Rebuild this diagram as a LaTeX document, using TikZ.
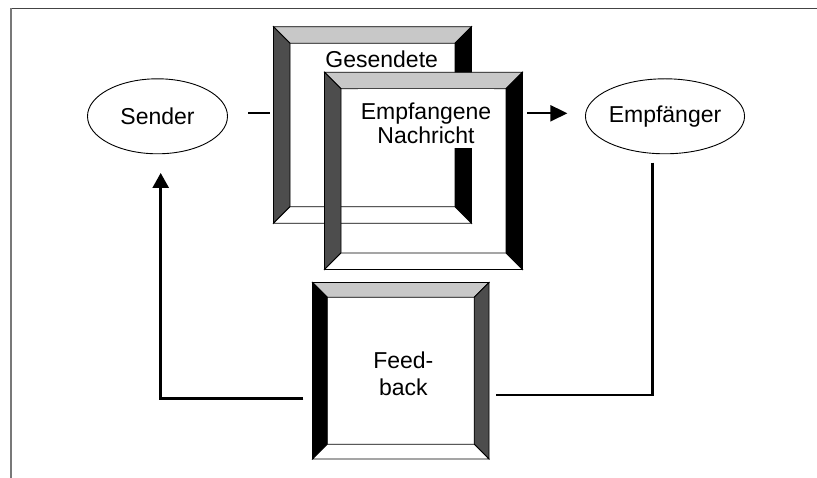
\documentclass[tikz,border=0pt]{standalone}
\usepackage{fontspec}
\setmainfont{Liberation Sans}
\usetikzlibrary{arrows.meta,calc,shapes.geometric}
\definecolor{bevtop}{RGB}{200,200,200}
\definecolor{bevdark}{RGB}{77,77,77}
\definecolor{framedark}{RGB}{68,68,68}
\definecolor{framegray}{RGB}{120,120,120}
\newcommand{\bevelbox}[4]{%
  \coordinate (#1-a) at ([shift={(#2,#2)}]#1.north west);
  \coordinate (#1-b) at ([shift={(-#2,#2)}]#1.north east);
  \coordinate (#1-c) at ([shift={(-#2,-#2)}]#1.south east);
  \coordinate (#1-d) at ([shift={(#2,-#2)}]#1.south west);
  \filldraw[bevel,fill=bevtop] (#1.north west) -- (#1.north east) -- (#1-b) -- (#1-a) -- cycle;
  \filldraw[bevel,fill=#3] (#1.north west) -- (#1-a) -- (#1-d) -- (#1.south west) -- cycle;
  \filldraw[bevel,fill=#4] (#1.north east) -- (#1.south east) -- (#1-c) -- (#1-b) -- cycle;
  \filldraw[bevel,fill=white] (#1.south west) -- (#1-d) -- (#1-c) -- (#1.south east) -- cycle;
}
\begin{document}
\begin{tikzpicture}[x=1pt,y=-1pt,
  boxarea/.style={rectangle,inner sep=0pt,outer sep=0pt},
  bevel/.style={draw=black,line width=0.8pt,line join=miter},
  lbl/.style={font=\fontsize{23}{27.6}\selectfont,align=center,inner sep=0pt},
  ell/.style={ellipse,draw=black,line width=0.9pt,minimum width=140pt,minimum height=75pt,inner sep=0pt,font=\fontsize{23}{27.6}\selectfont},
  conn/.style={draw=black,line width=2pt},
  fbline/.style={draw=black,line width=2.5pt},
  tipa/.style={-{Triangle[length=17pt,width=16pt]}},
  tipb/.style={-{Triangle[length=15pt,width=16pt]}}
]
\useasboundingbox (0,0) rectangle (817,478);
\fill[white] (0,0) rectangle (817,478);
\draw[framedark,line width=1.5pt] (10,8.3) -- (817,8.3);
\draw[framegray,line width=2pt] (10.7,8.3) -- (10.7,478);

% Gesendete box
\node[boxarea,minimum width=198pt,minimum height=196.6pt] (gesendete) at (372.5,125) {};
\bevelbox{gesendete}{16.5}{bevdark}{black}
\node[lbl] (tges) at (381.7,59.3) {Gesendete};

% Empfangene box
\node[boxarea,minimum width=198pt,minimum height=197.2pt] (empfangene) at (423.5,170.9) {};
\bevelbox{empfangene}{16.5}{bevdark}{black}
\node[lbl,fill=white,inner xsep=3pt,font=\fontsize{23}{24.6}\selectfont] (temp) at (426,118.7)
  {\rule{0pt}{29.7pt}Empfangene\\Nachricht\rule[-4.2pt]{0pt}{4.2pt}};

% Feedback box
\node[boxarea,minimum width=176.5pt,minimum height=176.5pt] (feedback) at (400.75,370.75) {};
\bevelbox{feedback}{14.8}{black}{bevdark}
\node[lbl,font=\fontsize{23}{27.7}\selectfont] (tfeed) at (403.3,373.8) {Feed-\\back};

% Ellipses
\node[ell] (sender) at (157.5,116.3) {Sender};
\node[ell] (empf) at (665,116.3) {Empfänger};

% Connectors
\draw[conn,shorten <=20.5pt,shorten >=4pt] ($(sender.east)+(0,-3)$) -- ($(sender.east -| gesendete.west)+(0,-3)$);
\draw[conn,tipa,shorten <=4.5pt,shorten >=17.6pt] ($(empfangene.east |- empf.west)+(0,-3)$) -- ($(empf.west)+(0,-3)$);

\coordinate (eR) at ($(empf.south)+(-12.3,8.3)$);
\coordinate (fR) at ($(feedback.east)+(7,24.3)$);
\draw[fbline] (eR) |- (fR);

\coordinate (fL) at ($(feedback.west)+(-9.2,27.5)$);
\coordinate (sB) at ($(sender.south)+(3.2,18.7)$);
\draw[fbline,tipb] (fL) -| (sB);
\end{tikzpicture}
\end{document}
